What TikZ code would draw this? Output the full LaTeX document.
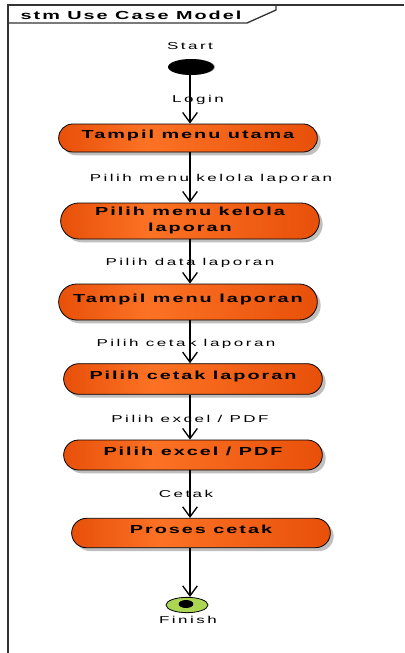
\documentclass[tikz,border=0pt]{standalone}
\usepackage{fontspec}
\newfontfamily\ucfont[FakeStretch=1.7,LetterSpace=25]{Liberation Sans}
\newfontfamily\ucboldfont[FakeStretch=1.7,LetterSpace=17]{Liberation Sans Bold}
\usetikzlibrary{shapes.misc,shapes.geometric,shadows,arrows.meta}

\definecolor{ucEdge}{RGB}{232,80,10}
\definecolor{ucMid}{RGB}{252,114,36}
\definecolor{finGreen}{RGB}{172,214,82}
\pgfdeclarehorizontalshading{ucshade}{100bp}{color(0bp)=(ucEdge); color(25bp)=(ucEdge); color(42bp)=(ucMid); color(75bp)=(ucEdge); color(100bp)=(ucEdge)}

\tikzset{
  usecase/.style={rounded rectangle, draw=black, line width=0.6pt, shade, shading=ucshade,
    minimum width=198pt, minimum height=21pt, inner sep=2pt, align=center, text depth=6pt,
    font=\ucboldfont\fontsize{8.75}{12}\selectfont,
    drop shadow={shadow xshift=2.5pt, shadow yshift=-2.5pt, fill=black!25, opacity=1}},
  startnode/.style={ellipse, fill=black, inner sep=0pt, minimum width=34.5pt, minimum height=12pt,
    drop shadow={shadow xshift=0.8pt, shadow yshift=0pt, fill=black!30, opacity=1}},
  endnode/.style={ellipse, draw=black, line width=0.6pt, fill=finGreen, inner sep=0pt,
    minimum width=31.5pt, minimum height=11.5pt},
  enddot/.style={ellipse, fill=black, inner sep=0pt, minimum width=11pt, minimum height=6pt},
  lbl/.style={font=\ucfont\fontsize{7.5}{9}\selectfont, inner sep=0pt},
  title/.style={font=\ucboldfont\fontsize{8.75}{10}\selectfont, inner sep=0pt},
  flow/.style={line width=1.1pt, -{Straight Barb[length=7.5pt,width=11pt,line width=1pt]}},
  frame/.style={line width=1pt, black!80},
}

\begin{document}
\begin{tikzpicture}[x=0.75pt,y=-0.75pt]
  \useasboundingbox (0,0) rectangle (404,653);

  % Frame and title tab
  \draw[frame] (8,653) -- (8,5) -- (404,5);
  \draw[frame] (8,23) -- (247,23) -- (276,10) -- (276,5);
  \node[title] (ttl) at (131,15) {stm Use Case Model};

  % Start
  \coordinate (axis) at (190,0);
  \node[lbl] (tStart) at (190,46) {Start};
  \node[startnode] (start) at (191,67) {};

  % Activities
  \node[usecase] (tampil) at (188,138) {Tampil menu utama};
  \node[usecase, minimum height=27pt, text depth=3pt] (kelola) at (190,221) {Pilih menu kelola\\laporan};
  \node[usecase, minimum height=27pt] (laporan) at (188,302) {Tampil menu laporan};
  \node[usecase, minimum height=23pt] (cetak) at (193,379) {Pilih cetak laporan};
  \node[usecase, minimum height=22.5pt] (excel) at (193,455) {Pilih excel / PDF};
  \node[usecase, minimum height=22pt] (proses) at (201,533) {Proses cetak};

  % Finish
  \node[endnode] (finish) at (187,605) {};
  \node[enddot] (finDot) at (186,604) {};
  \node[lbl] (tFinish) at (188,620) {Finish};

  % Transitions
  \draw[flow] (start.south -| axis) -- (tampil.north -| axis);
  \draw[flow] (tampil.south -| axis) -- (kelola.north -| axis);
  \draw[flow] (kelola.south -| axis) -- (laporan.north -| axis);
  \draw[flow] (laporan.south -| axis) -- (cetak.north -| axis);
  \draw[flow] (cetak.south -| axis) -- (excel.north -| axis);
  \draw[flow] (excel.south -| axis) -- (proses.north -| axis);
  \draw[flow] (proses.south -| axis) -- (finish.north -| axis);

  % Transition labels
  \node[lbl] (tLogin) at (198,100) {Login};
  \node[lbl] (tKelola) at (211,179) {Pilih menu kelola laporan};
  \node[lbl] (tData) at (190,263) {Pilih data laporan};
  \node[lbl] (tCetak) at (186,344) {Pilih cetak laporan};
  \node[lbl] (tExcel) at (190,419) {Pilih excel / PDF};
  \node[lbl] (tProses) at (186,494) {Cetak};
\end{tikzpicture}
\end{document}
